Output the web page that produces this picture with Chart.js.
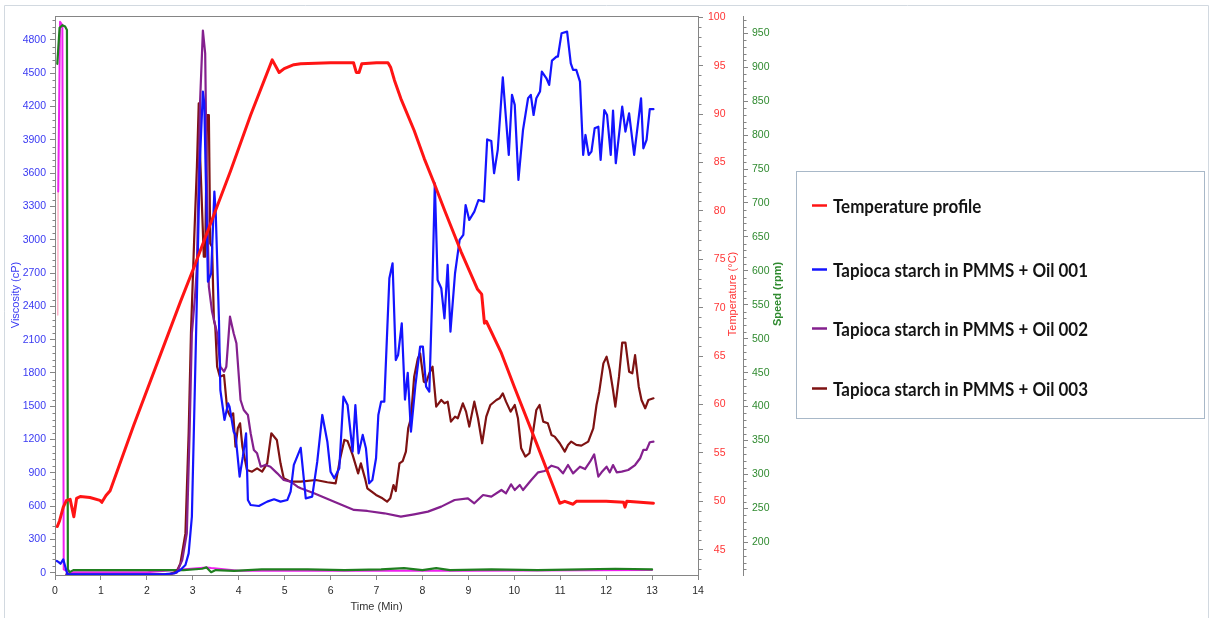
<!DOCTYPE html>
<html>
<head>
<meta charset="utf-8">
<title>RVA pasting profile</title>
<script src="https://cdn.jsdelivr.net/npm/chart.js@4.4.1/dist/chart.umd.min.js"></script>
<style>
  html, body { margin: 0; padding: 0; background: #ffffff; }
  canvas { display: block; }
</style>
</head>
<body>
<canvas id="rva" width="1213" height="618"></canvas>
<script>
// ---- Temperature profile (°C) ----
const tempTime  = [0.05, 0.10, 0.18, 0.25, 0.33, 0.41, 0.47, 0.55, 0.76, 0.98, 1.02, 1.11, 1.20, 1.71, 2.73, 3.02, 3.82, 4.26, 4.73, 4.88, 4.99, 5.20, 5.35, 6.00, 6.50, 6.56, 6.62, 6.68, 7.00, 7.25, 7.31, 7.39, 7.53, 7.82, 8.04, 8.26, 8.48, 8.84, 9.20, 9.29, 9.35, 9.39, 9.72, 10.01, 10.50, 10.99, 11.10, 11.28, 11.35, 12.00, 12.38, 12.41, 12.45, 13.03];
const tempValue = [47.4, 48.0, 49.4, 50.1, 50.2, 48.4, 50.3, 50.5, 50.4, 50.1, 49.9, 50.6, 51.1, 57.8, 70.6, 74.1, 84.1, 89.9, 95.6, 94.3, 94.7, 95.1, 95.2, 95.3, 95.3, 94.3, 94.3, 95.2, 95.3, 95.3, 94.8, 93.5, 91.6, 88.3, 85.4, 82.8, 80.1, 75.8, 71.9, 71.4, 68.4, 68.6, 65.3, 61.7, 55.8, 49.8, 50.0, 49.7, 50.0, 50.0, 49.9, 49.4, 50.0, 49.8];

// ---- Viscosity (cP), Oil 001 ----
const oil001Time = [0.04, 0.08, 0.12, 0.15, 0.18, 0.22, 0.27, 0.50, 1.00, 1.50, 2.00, 2.40, 2.60, 2.73, 2.84, 2.91, 2.98, 3.03, 3.08, 3.15, 3.22, 3.25, 3.33, 3.40, 3.47, 3.50, 3.57, 3.60, 3.69, 3.77, 3.80, 3.89, 3.93, 4.02, 4.09, 4.16, 4.20, 4.26, 4.44, 4.62, 4.77, 4.91, 5.06, 5.13, 5.20, 5.35, 5.46, 5.60, 5.71, 5.82, 5.93, 6.00, 6.08, 6.19, 6.28, 6.37, 6.48, 6.54, 6.61, 6.70, 6.77, 6.84, 6.91, 6.99, 7.04, 7.10, 7.17, 7.28, 7.35, 7.42, 7.47, 7.55, 7.62, 7.68, 7.75, 7.85, 7.95, 8.01, 8.08, 8.15, 8.21, 8.27, 8.33, 8.41, 8.48, 8.55, 8.61, 8.71, 8.81, 8.89, 8.94, 9.02, 9.13, 9.22, 9.34, 9.41, 9.50, 9.56, 9.64, 9.75, 9.88, 9.95, 10.01, 10.09, 10.19, 10.30, 10.36, 10.42, 10.48, 10.56, 10.60, 10.70, 10.76, 10.82, 10.92, 10.95, 11.03, 11.15, 11.23, 11.28, 11.35, 11.43, 11.50, 11.55, 11.62, 11.68, 11.75, 11.83, 11.88, 11.96, 12.02, 12.10, 12.15, 12.21, 12.35, 12.42, 12.50, 12.61, 12.76, 12.81, 12.88, 12.95, 13.03];
const oil001Visc = [105, 95, 80, 100, 120, 60, -15, -15, -16, -15, -15, -12, -5, 24, 69, 174, 504, 1400, 2300, 3659, 4335, 4230, 2622, 2698, 3434, 3239, 2277, 1646, 1376, 1526, 1496, 1271, 1241, 865, 1045, 1256, 655, 610, 601, 640, 661, 640, 655, 730, 971, 1125, 670, 685, 1000, 1421, 1180, 910, 850, 940, 1586, 1511, 1090, 1511, 1075, 1241, 1121, 805, 835, 1031, 1421, 1541, 1541, 2653, 2788, 1916, 1961, 2247, 1560, 1800, 1271, 1700, 2037, 2037, 1676, 1631, 2457, 3509, 2637, 2563, 2292, 2773, 2172, 2698, 2998, 3043, 3313, 3178, 3253, 3358, 3343, 3904, 3889, 3599, 3809, 4464, 3764, 4305, 4215, 3539, 3989, 4275, 4305, 4124, 4275, 4335, 4515, 4455, 4395, 4614, 4650, 4650, 4861, 4875, 4590, 4530, 4530, 4425, 3764, 3944, 3764, 3794, 4004, 4019, 3719, 4169, 4124, 3764, 4164, 3689, 4199, 3974, 4139, 3764, 4275, 3824, 3899, 4176, 4176];

// ---- Viscosity (cP), Oil 002 ----
const oil002Time = [0.25, 0.50, 1.00, 1.50, 2.00, 2.50, 2.65, 2.77, 2.87, 2.93, 2.98, 3.05, 3.09, 3.16, 3.22, 3.27, 3.30, 3.35, 3.42, 3.53, 3.60, 3.68, 3.73, 3.81, 3.89, 3.95, 4.04, 4.11, 4.20, 4.26, 4.33, 4.40, 4.48, 4.59, 4.69, 4.84, 4.98, 5.13, 5.28, 5.35, 5.64, 6.08, 6.51, 6.80, 7.17, 7.53, 7.82, 8.12, 8.41, 8.70, 8.99, 9.13, 9.32, 9.50, 9.72, 9.82, 9.93, 10.01, 10.12, 10.19, 10.37, 10.52, 10.66, 10.81, 10.95, 11.06, 11.17, 11.28, 11.43, 11.54, 11.65, 11.74, 11.83, 11.90, 12.01, 12.08, 12.15, 12.23, 12.34, 12.48, 12.63, 12.74, 12.81, 12.88, 12.95, 13.03];
const oil002Visc = [-15, -18, -18, -18, -18, -15, 0, 113, 354, 1256, 2157, 2500, 2757, 4257, 4884, 4680, 3659, 2577, 2350, 2157, 1856, 1811, 1856, 2307, 2157, 2067, 1556, 1466, 1421, 1256, 1106, 1075, 955, 971, 955, 895, 835, 820, 775, 760, 715, 640, 565, 556, 535, 505, 526, 550, 595, 655, 670, 625, 700, 685, 745, 715, 796, 745, 790, 745, 835, 904, 916, 964, 946, 895, 970, 895, 955, 934, 1000, 1066, 865, 904, 955, 904, 970, 904, 910, 925, 970, 1031, 1106, 1106, 1175, 1181];

// ---- Viscosity (cP), Oil 003 ----
const oil003Time = [0.25, 0.50, 1.00, 1.50, 2.00, 2.50, 2.65, 2.73, 2.84, 2.91, 2.96, 3.03, 3.09, 3.13, 3.16, 3.24, 3.27, 3.31, 3.35, 3.38, 3.42, 3.46, 3.49, 3.53, 3.59, 3.68, 3.75, 3.82, 3.88, 3.93, 3.98, 4.03, 4.08, 4.18, 4.29, 4.40, 4.51, 4.62, 4.71, 4.83, 4.91, 4.98, 5.13, 5.35, 5.68, 5.93, 6.11, 6.21, 6.30, 6.37, 6.48, 6.60, 6.66, 6.75, 6.80, 6.99, 7.13, 7.23, 7.30, 7.37, 7.42, 7.50, 7.57, 7.64, 7.69, 7.75, 7.82, 7.90, 7.95, 8.03, 8.08, 8.15, 8.22, 8.30, 8.41, 8.48, 8.55, 8.62, 8.71, 8.77, 8.88, 8.95, 9.02, 9.13, 9.21, 9.30, 9.39, 9.48, 9.61, 9.68, 9.75, 9.82, 9.92, 10.01, 10.08, 10.15, 10.24, 10.33, 10.41, 10.48, 10.55, 10.63, 10.73, 10.81, 10.88, 10.99, 11.10, 11.17, 11.24, 11.35, 11.46, 11.61, 11.72, 11.79, 11.85, 11.94, 12.01, 12.08, 12.15, 12.20, 12.28, 12.35, 12.42, 12.50, 12.57, 12.63, 12.71, 12.77, 12.85, 12.92, 13.03];
const oil003Visc = [-15, -18, -18, -18, -18, -12, 10, 84, 354, 1256, 2157, 3000, 3659, 4230, 3749, 2847, 2847, 4124, 4124, 2967, 2937, 2277, 2217, 1856, 1766, 1781, 1466, 1406, 1436, 1136, 1301, 1346, 1136, 925, 910, 940, 910, 985, 1256, 1196, 985, 850, 820, 820, 835, 815, 805, 1031, 1196, 1186, 1061, 895, 985, 850, 760, 700, 670, 640, 670, 790, 736, 985, 1006, 1091, 1301, 1391, 1766, 1931, 1976, 1721, 1712, 1796, 1856, 1496, 1556, 1526, 1541, 1361, 1406, 1391, 1526, 1451, 1316, 1541, 1391, 1166, 1406, 1511, 1556, 1571, 1616, 1541, 1451, 1511, 1391, 1121, 1046, 1076, 1271, 1466, 1511, 1361, 1346, 1241, 1226, 1166, 1091, 1151, 1181, 1151, 1145, 1181, 1301, 1511, 1631, 1886, 1946, 1826, 1646, 1496, 1766, 2073, 2073, 1811, 1796, 1961, 1676, 1556, 1481, 1556, 1571];

// ---- Paddle speed (rpm) ----
const speedTime  = [0.05, 0.10, 0.16, 0.22, 0.26, 0.28, 0.32, 0.40, 1.00, 2.00, 2.80, 3.20, 3.30, 3.40, 3.50, 3.90, 4.50, 5.50, 6.30, 7.10, 7.60, 8.00, 8.30, 8.60, 9.50, 10.50, 11.50, 12.20, 13.00];
const speedValue = [905, 958, 962, 960, 955, 160, 156, 159, 159, 159, 159, 161, 163, 156, 159, 158, 160, 160, 159, 160, 162, 159, 162, 159, 160, 159, 160, 161, 160];
const speed2Time  = [0.07, 0.11, 0.16, 0.19, 0.30, 1.00, 2.00, 3.30, 3.40, 4.00, 6.00, 9.00, 13.00];
const speed2Value = [717, 967, 962, 160, 156, 156, 156, 163, 162, 158, 158, 158, 159];
const speed3Time  = [0.06, 0.068];
const speed3Value = [535, 717];

// ---- Axis ticks ----
const timeTicks  = [0, 1, 2, 3, 4, 5, 6, 7, 8, 9, 10, 11, 12, 13, 14];
const viscTicks  = [0, 300, 600, 900, 1200, 1500, 1800, 2100, 2400, 2700, 3000, 3300, 3600, 3900, 4200, 4500, 4800];
const tempTicks  = [45, 50, 55, 60, 65, 70, 75, 80, 85, 90, 95, 100];
const speedTicks = [200, 250, 300, 350, 400, 450, 500, 550, 600, 650, 700, 750, 800, 850, 900, 950];

// ---- Legend entries ----
const legendLabels = [
  'Temperature profile',
  'Tapioca starch in PMMS + Oil 001',
  'Tapioca starch in PMMS + Oil 002',
  'Tapioca starch in PMMS + Oil 003'
];

const pairs = (xs, ys) => xs.map((x, i) => ({ x: x, y: ys[i] }));

const GRAY = '#858585';
const BLUE_TXT = '#3a3af2';
const RED_TXT = '#ff3434';
const GREEN_TXT = '#2f8a2f';
const TICK_FONT = { family: 'Liberation Sans', size: 10.5 };

function lineSet(label, xs, ys, color, axis, width) {
  return {
    label: label,
    data: pairs(xs, ys),
    yAxisID: axis,
    borderColor: color,
    backgroundColor: color,
    borderWidth: width,
    pointRadius: 0,
    tension: 0,
    fill: false,
    borderJoinStyle: 'round',
    borderCapStyle: 'round'
  };
}

function axisBase(extra) {
  return Object.assign({
    type: 'linear',
    grid: { drawOnChartArea: false, drawTicks: true, tickLength: 5, color: GRAY, lineWidth: 1 },
    border: { display: true, color: GRAY, width: 1 }
  }, extra);
}

// Minor tick marks, the plot box, outer frame and rotated axis titles
const axisDecor = {
  id: 'axisDecor',
  afterDraw(chart) {
    const c = chart.ctx;
    const a = chart.chartArea;
    const px = v => Math.round(v) + 0.5;
    c.save();
    c.lineWidth = 1;

    // outer frame
    c.strokeStyle = '#d2d9e0';
    c.beginPath();
    c.moveTo(4.5, 618); c.lineTo(4.5, 5.5); c.lineTo(1208.5, 5.5); c.lineTo(1208.5, 618);
    c.stroke();

    // top edge of the plot box
    c.strokeStyle = GRAY;
    c.beginPath();
    c.moveTo(a.left, px(a.top)); c.lineTo(a.right + 1, px(a.top));
    c.stroke();

    // minor ticks
    const minor = (scale, from, to, step, majorStep, x0, dir) => {
      c.beginPath();
      for (let v = from; v <= to + 1e-9; v += step) {
        if (Math.abs(v / majorStep - Math.round(v / majorStep)) < 1e-6) continue;
        const y = px(scale.getPixelForValue(v));
        c.moveTo(x0, y); c.lineTo(x0 + dir * 3, y);
      }
      c.stroke();
    };
    const sv = chart.scales.y, st = chart.scales.yT, ss = chart.scales.yS;
    minor(sv, 60, 4980, 60, 300, px(sv.right), -1);
    minor(st, 43, 99, 1, 5, px(st.left), 1);
    minor(ss, 160, 970, 10, 50, px(ss.left), 1);

    // axis titles
    const vText = (txt, x, y, color, font) => {
      c.save();
      c.translate(x, y);
      c.rotate(-Math.PI / 2);
      c.font = font;
      c.fillStyle = color;
      c.textAlign = 'center';
      c.textBaseline = 'middle';
      c.fillText(txt, 0, 0);
      c.restore();
    };
    vText('Viscosity (cP)', 16, 295, BLUE_TXT, '11px "Liberation Sans"');
    vText('Temperature (\u00B0C)', 733, 294, RED_TXT, '11px "Liberation Sans"');
    vText('Speed (rpm)', 778, 294, GREEN_TXT, 'bold 11px "Liberation Sans"');

    c.font = '11px "Liberation Sans"';
    c.fillStyle = '#333333';
    c.textAlign = 'center';
    c.textBaseline = 'middle';
    c.fillText('Time (Min)', (a.left + a.right) / 2, 607);
    c.restore();
  }
};

// Boxed legend to the right of the plot
const legendBox = {
  id: 'legendBox',
  afterDraw(chart) {
    const c = chart.ctx;
    c.save();
    c.strokeStyle = '#a8b8c8';
    c.lineWidth = 1;
    c.strokeRect(796.5, 171.5, 408, 247);
    c.font = 'bold 19.5px Lato';
    const widest = Math.max(...legendLabels.map(l => c.measureText(l).width));
    const sx = 255 / widest;
    const rows = [213, 277, 336, 396];
    legendLabels.forEach((label, i) => {
      const ds = chart.data.datasets.find(d => d.label === label);
      const y = rows[i];
      c.strokeStyle = ds.borderColor;
      c.lineWidth = 2.5;
      c.beginPath();
      c.moveTo(812, y - 7.5); c.lineTo(827, y - 7.5);
      c.stroke();
      c.save();
      c.translate(833, y);
      c.scale(sx, 1);
      c.fillStyle = '#141414';
      c.textBaseline = 'alphabetic';
      c.textAlign = 'left';
      c.fillText(label, 0, 0);
      c.restore();
    });
    c.restore();
  }
};

new Chart(document.getElementById('rva'), {
  type: 'line',
  data: {
    datasets: [
      lineSet(legendLabels[0], tempTime, tempValue, '#ff1414', 'yT', 3),
      lineSet(legendLabels[1], oil001Time, oil001Visc, '#1414ff', 'y', 2.2),
      lineSet(legendLabels[2], oil002Time, oil002Visc, '#84208e', 'y', 2.2),
      lineSet(legendLabels[3], oil003Time, oil003Visc, '#7e1212', 'y', 2.2),
      lineSet('Speed', speedTime, speedValue, '#1f7f1f', 'yS', 2.2),
      lineSet('Speed 2', speed2Time, speed2Value, '#f020f0', 'yS', 2),
      lineSet('Speed 3', speed3Time, speed3Value, '#ffb0c8', 'yS', 1.5)
    ]
  },
  options: {
    responsive: false,
    animation: false,
    events: [],
    layout: { padding: { left: 0, top: 16, right: 430, bottom: 0 }, autoPadding: false },
    plugins: { legend: { display: false }, tooltip: { enabled: false } },
    scales: {
      x: axisBase({
        position: 'bottom',
        min: 0, max: 14,
        afterBuildTicks: s => { s.ticks = timeTicks.map(v => ({ value: v })); },
        afterFit: s => { s.height = 43; },
        ticks: { color: '#2a2a2a', font: TICK_FONT, padding: 5, autoSkip: false, maxRotation: 0, minRotation: 0, callback: v => String(v) }
      }),
      y: axisBase({
        position: 'left',
        min: -21, max: 5016,
        afterBuildTicks: s => { s.ticks = viscTicks.map(v => ({ value: v })); },
        afterFit: s => { s.width = 55; },
        ticks: { color: BLUE_TXT, font: TICK_FONT, padding: 4, autoSkip: false, callback: v => String(v) }
      }),
      yT: axisBase({
        position: 'right',
        min: 42.39, max: 100.13,
        afterBuildTicks: s => { s.ticks = tempTicks.map(v => ({ value: v })); },
        afterFit: s => { s.width = 45; },
        ticks: { color: RED_TXT, font: TICK_FONT, padding: 5, autoSkip: false, callback: v => (v < 100 ? '\u2007' : '') + v }
      }),
      yS: axisBase({
        position: 'right',
        min: 151.8, max: 975.5,
        afterBuildTicks: s => { s.ticks = speedTicks.map(v => ({ value: v })); },
        afterFit: s => { s.width = 40; },
        ticks: { color: GREEN_TXT, font: TICK_FONT, padding: 4, autoSkip: false, callback: v => String(v) }
      })
    }
  },
  plugins: [axisDecor, legendBox]
});
</script>
</body>
</html>
